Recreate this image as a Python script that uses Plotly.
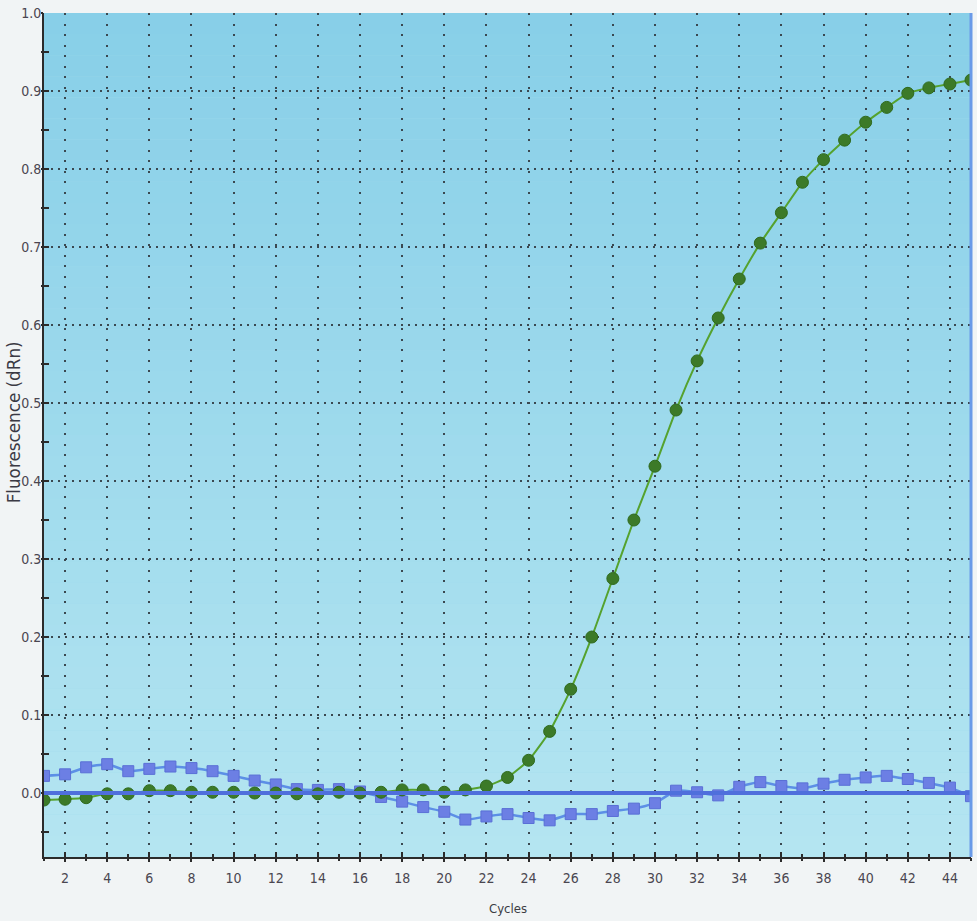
import plotly.graph_objects as go

# Amplification plot: fluorescence (dRn) per PCR cycle for two wells
cycles = list(range(1, 46))

sample_dRn = [
    -0.009, -0.008, -0.006, -0.001, -0.001, 0.003, 0.003, 0.001, 0.001, 0.001,
    0.000, 0.000, -0.001, -0.001, 0.001, 0.000, 0.001, 0.004, 0.004, 0.001,
    0.004, 0.009, 0.020, 0.042, 0.079, 0.133, 0.200, 0.275, 0.350, 0.419,
    0.491, 0.554, 0.609, 0.659, 0.705, 0.744, 0.783, 0.812, 0.837, 0.860,
    0.879, 0.897, 0.904, 0.909, 0.914,
]

control_dRn = [
    0.022, 0.024, 0.033, 0.037, 0.028, 0.031, 0.034, 0.032, 0.028, 0.022,
    0.016, 0.011, 0.005, 0.004, 0.005, 0.002, -0.005, -0.011, -0.018, -0.024,
    -0.034, -0.030, -0.027, -0.032, -0.035, -0.027, -0.027, -0.023, -0.020, -0.013,
    0.003, 0.001, -0.003, 0.008, 0.014, 0.009, 0.006, 0.012, 0.017, 0.020,
    0.022, 0.018, 0.013, 0.007, -0.004,
]

threshold = 0.0

x_major_ticks = list(range(2, 46, 2))
x_tick_labels = [str(v) for v in x_major_ticks]
y_major_ticks = [round(0.1 * i, 1) for i in range(0, 11)]
y_tick_labels = [f"{v:.1f}" for v in y_major_ticks]

X_RANGE = [1, 45]
Y_RANGE = [-0.082, 1.0]

NARROW = "Liberation Sans Narrow, Arial Narrow, DejaVu Sans Condensed, Roboto Condensed, Liberation Sans"
LABEL_FONT = dict(family=NARROW, size=14, color="#4a4650")
AXIS_INK = "#2b2b2b"

fig = go.Figure()

fig.add_trace(go.Scatter(
    x=cycles, y=control_dRn, mode="lines+markers",
    line=dict(color="#5c8fe6", width=2.5, shape="spline", smoothing=0.5),
    marker=dict(symbol="square", size=11, color="#6c7fe4",
                line=dict(color="#5a6fd6", width=1)),
    showlegend=False, hoverinfo="x+y",
))

fig.add_trace(go.Scatter(
    x=cycles, y=sample_dRn, mode="lines+markers",
    line=dict(color="#55a22e", width=2, shape="spline", smoothing=0.5),
    marker=dict(symbol="circle", size=12, color="#3c7a28",
                line=dict(color="#2f6a1e", width=1)),
    showlegend=False, hoverinfo="x+y",
))

# threshold line drawn over the traces
fig.add_hline(y=threshold, line=dict(color="#4f6fdc", width=4), layer="above")

# vertical colour gradient for the plotting area
n_bands = 40
top_rgb = (136, 207, 232)
bot_rgb = (180, 229, 241)
for i in range(n_bands):
    t = i / (n_bands - 1)
    r, g, b = (round(bot_rgb[k] + (top_rgb[k] - bot_rgb[k]) * t) for k in range(3))
    fig.add_shape(type="rect", xref="paper", yref="paper",
                  x0=0, x1=1, y0=i / n_bands, y1=(i + 1) / n_bands,
                  fillcolor=f"rgb({r},{g},{b})", line=dict(width=0), layer="below")

# blue right-hand frame edge
fig.add_shape(type="line", xref="paper", yref="paper", x0=1, x1=1, y0=0, y1=1,
              line=dict(color="#6a9ae8", width=3), layer="above")

# axis titles as annotations for exact placement
fig.add_annotation(
    text="Fluorescence (dRn)", textangle=-90, showarrow=False,
    xref="paper", yref="paper", x=0, y=0.515, xanchor="center", yanchor="middle",
    xshift=-30, font=dict(family="DejaVu Sans, sans-serif", size=16.8, color="#3a3a44"),
)
fig.add_annotation(
    text="Cycles", showarrow=False,
    xref="paper", yref="paper", x=0.5, y=0, xanchor="center", yanchor="middle",
    yshift=-51, font=dict(family=NARROW, size=13, color="#3c3c44"),
)

fig.update_layout(
    width=977, height=921,
    margin=dict(l=44, r=6, t=13, b=64, autoexpand=False),
    paper_bgcolor="#f1f4f5",
    plot_bgcolor="rgb(160,218,236)",
    xaxis=dict(
        range=X_RANGE, tickmode="array", tickvals=x_major_ticks, ticktext=x_tick_labels,
        ticks="inside", ticklen=5, tickwidth=2, tickcolor=AXIS_INK,
        minor=dict(ticks="inside", ticklen=3, tickwidth=1.5, tickcolor=AXIS_INK,
                   dtick=1, tick0=1, showgrid=False),
        showline=True, linecolor=AXIS_INK, linewidth=2,
        showgrid=True, gridcolor="#3a4850", gridwidth=1.5, griddash="2px,8.5px",
        tickfont=LABEL_FONT, ticklabelstandoff=7,
        zeroline=False, fixedrange=True, automargin=False,
    ),
    yaxis=dict(
        range=Y_RANGE, tickmode="array", tickvals=y_major_ticks, ticktext=y_tick_labels,
        ticks="inside", ticklen=5, tickwidth=2, tickcolor=AXIS_INK,
        minor=dict(ticks="inside", ticklen=5, tickwidth=2, tickcolor=AXIS_INK,
                   dtick=0.05, tick0=0, showgrid=False),
        showline=True, linecolor=AXIS_INK, linewidth=2,
        showgrid=True, gridcolor="#3a4850", gridwidth=1.6, griddash="2px,5px",
        tickfont=LABEL_FONT, ticklabelstandoff=-2,
        zeroline=False, fixedrange=True, automargin=False,
    ),
    # short outward stubs so the tick marks straddle the axis lines
    xaxis2=dict(
        overlaying="x", anchor="y", side="bottom", range=X_RANGE,
        tickmode="array", tickvals=x_major_ticks, showticklabels=False,
        ticks="outside", ticklen=4, tickwidth=2, tickcolor=AXIS_INK,
        minor=dict(ticks="outside", ticklen=3, tickwidth=1.5, tickcolor=AXIS_INK, dtick=1, tick0=1),
        showgrid=False, zeroline=False, showline=False, fixedrange=True, automargin=False,
    ),
    yaxis2=dict(
        overlaying="y", anchor="x", side="left", range=Y_RANGE,
        tickmode="array", tickvals=y_major_ticks, showticklabels=False,
        ticks="outside", ticklen=2, tickwidth=2, tickcolor=AXIS_INK,
        minor=dict(ticks="outside", ticklen=2, tickwidth=2, tickcolor=AXIS_INK, dtick=0.05, tick0=0),
        showgrid=False, zeroline=False, showline=False, fixedrange=True, automargin=False,
    ),
)

# empty carrier trace so the overlay tick axes are drawn
fig.add_trace(go.Scatter(x=[None], y=[None], xaxis="x2", yaxis="y2",
                         showlegend=False, hoverinfo="skip"))

fig.write_html("out.html")
